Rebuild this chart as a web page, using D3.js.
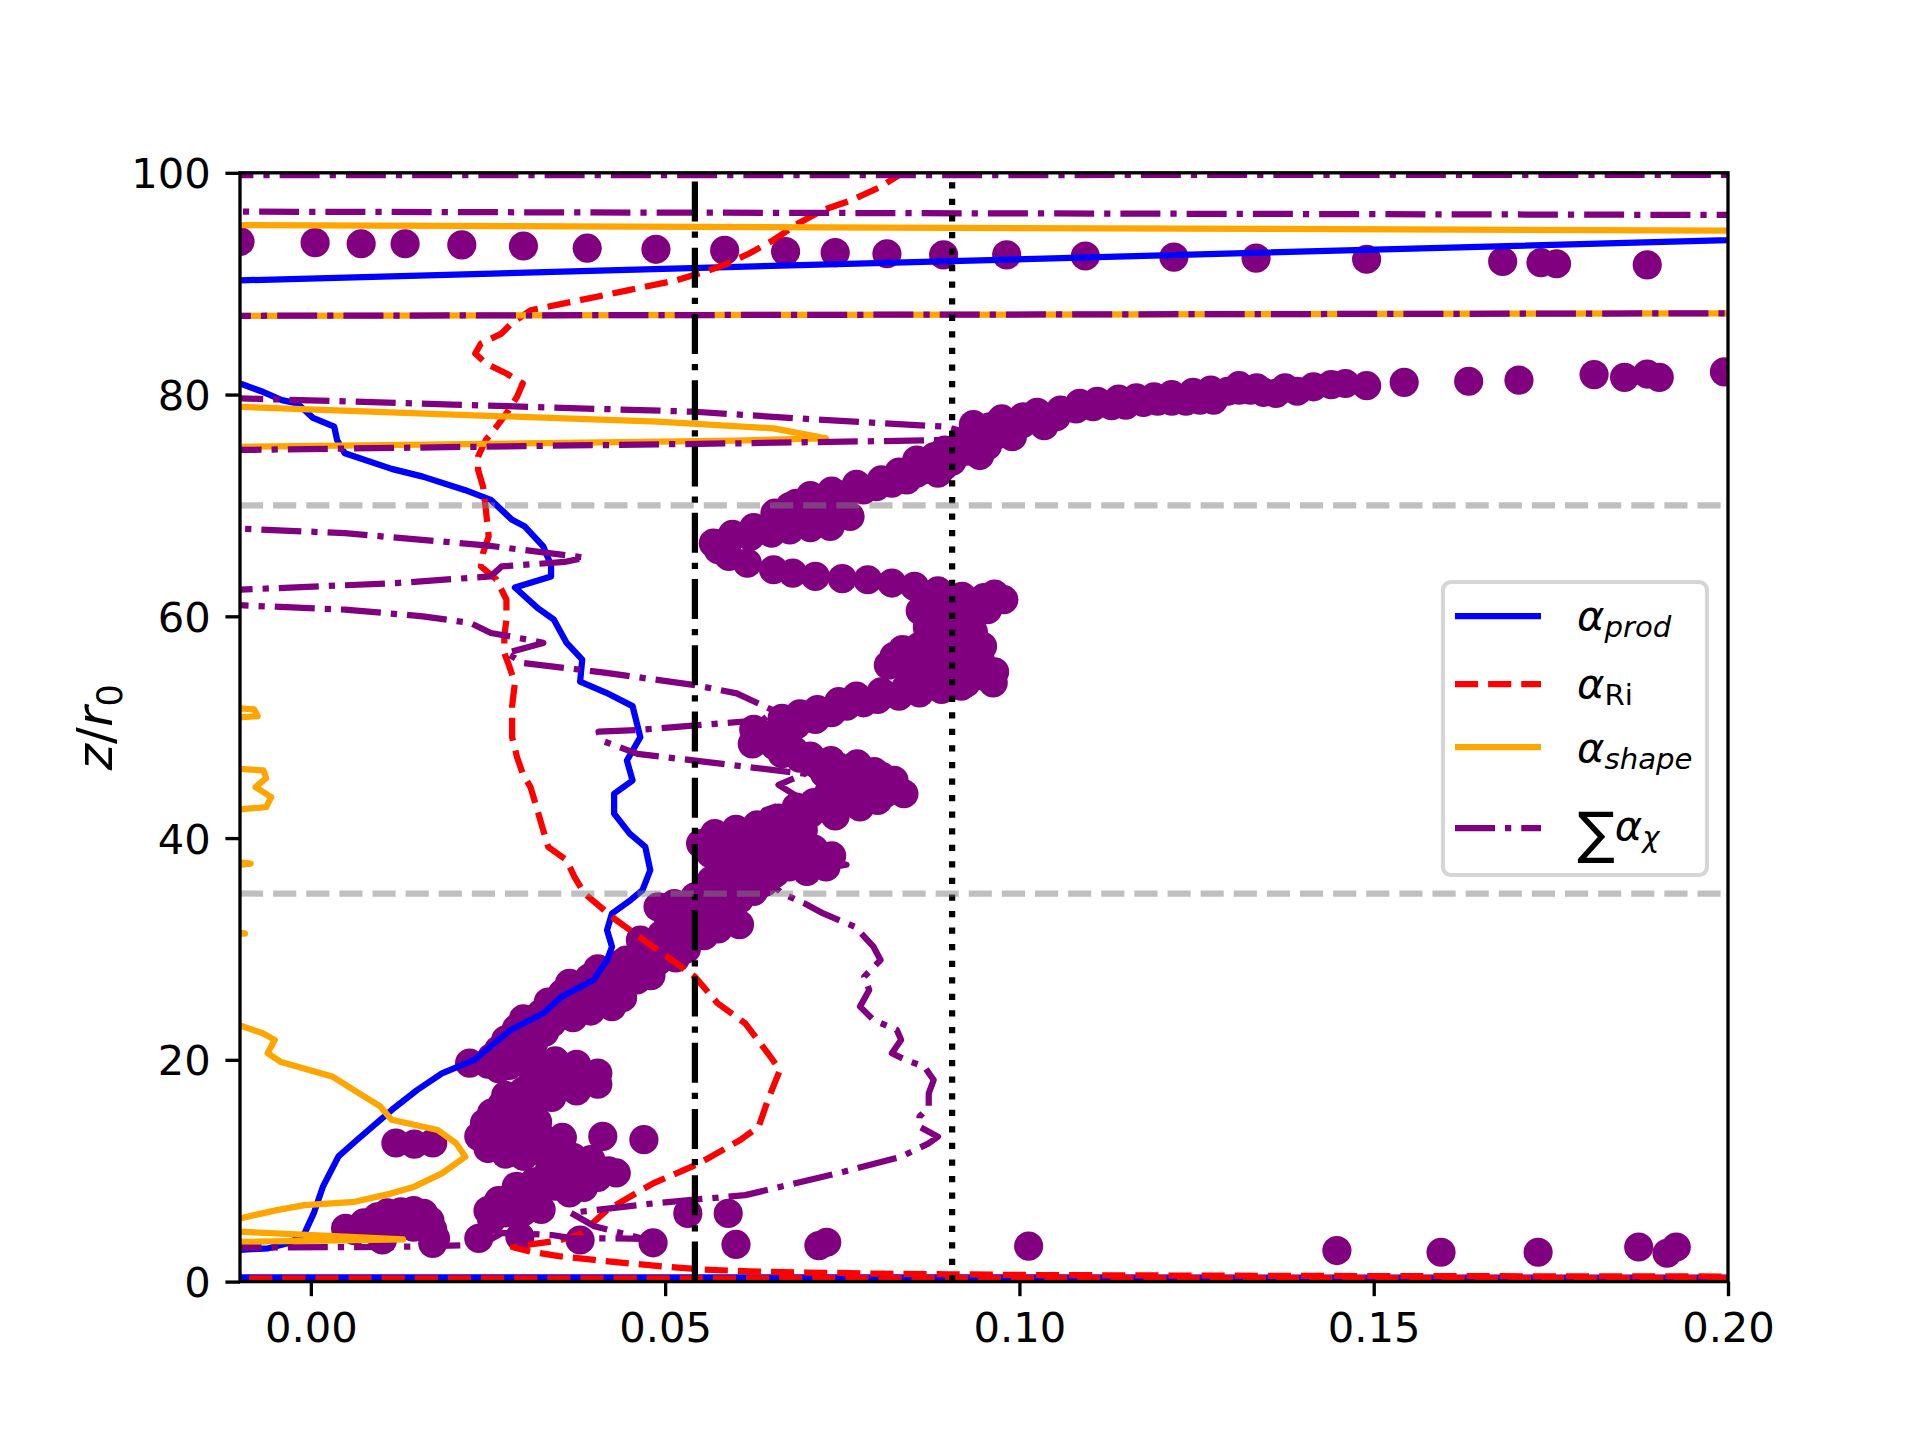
<!DOCTYPE html>
<html>
<head>
<meta charset="utf-8">
<script src="https://cdn.jsdelivr.net/npm/d3@7"></script>
<style>
  body { margin: 0; background: #fff; }
  text { font-family: "DejaVu Sans", sans-serif; }
</style>
</head>
<body>
<div id="chart"></div>
<script>
// every series is a list of [alpha, z/r0] pairs
// (values outside the axes are where the profiles blow up and get clipped)
const alphaProd = [
  [1.5, 0.3], [-1.5, 0.45], [-0.012, 2.8], [-0.006, 3.0], [-0.003, 3.5], [-0.0009, 4.35],
  [0.0004, 6.15], [0.0017, 8.56], [0.0039, 11.3], [0.0065, 12.77], [0.0114, 15.47],
  [0.015, 17.28], [0.0185, 18.78], [0.023, 19.98], [0.0282, 22.69], [0.0328, 24.2],
  [0.0354, 25.7], [0.0399, 27.2], [0.0418, 29.0], [0.0425, 30.2], [0.0418, 31.7],
  [0.0425, 33.2], [0.0451, 34.4], [0.0468, 35.3], [0.0479, 37.1], [0.0472, 39.2],
  [0.045, 40.4], [0.0428, 42.2], [0.0428, 44.0], [0.0454, 45.2], [0.0446, 47.0],
  [0.0465, 49.1], [0.0454, 51.9], [0.0417, 53.1], [0.038, 54.1], [0.0383, 56.1],
  [0.0361, 57.6], [0.0343, 59.7], [0.0321, 60.7], [0.0288, 62.6], [0.0339, 63.6],
  [0.0339, 64.6], [0.0328, 66.3], [0.0302, 68.1], [0.0284, 68.7], [0.0254, 70.5],
  [0.0217, 71.4], [0.0158, 72.6], [0.0114, 73.3], [0.0048, 74.7], [0.0037, 75.9],
  [0.0033, 77.1], [0.0003, 77.9], [-0.0019, 79.2], [-0.0041, 79.5], [-0.007, 80.3],
  [-0.01, 81.0], [-0.03, 81.5], [-0.03, 89.95], [0.25, 94.8], [0.3, 100.5]
];

const alphaRi = [
  [-1.5, 0.25], [1.5, 0.35], [0.21, 0.45], [0.15, 0.5], [0.12, 0.55], [0.1, 0.6],
  [0.09, 0.66], [0.08, 0.72], [0.07, 0.82], [0.062, 0.92], [0.055, 1.1], [0.05, 1.35],
  [0.045, 1.64], [0.04, 1.95], [0.035, 2.3], [0.031, 2.7], [0.0285, 3.1], [0.031, 3.35],
  [0.035, 3.7], [0.038, 4.3], [0.0393, 5.0], [0.0418, 6.45], [0.0483, 8.86],
  [0.0548, 10.66], [0.0606, 12.77], [0.0632, 13.97], [0.0645, 16.38], [0.0662, 19.08],
  [0.0645, 20.59], [0.0613, 23.29], [0.0574, 25.1], [0.0542, 27.5], [0.0516, 28.7],
  [0.047, 30.8], [0.0431, 32.6], [0.0386, 35.0], [0.0372, 36.5], [0.0361, 38.0],
  [0.0335, 39.2], [0.0328, 40.7], [0.0317, 43.1], [0.031, 44.6], [0.0299, 45.8],
  [0.0291, 47.3], [0.0284, 49.1], [0.0284, 51.9], [0.0288, 54.0], [0.028, 55.5],
  [0.0273, 56.7], [0.0273, 58.2], [0.0276, 59.7], [0.0276, 61.5], [0.0262, 63.3],
  [0.024, 64.5], [0.0243, 65.7], [0.0251, 67.2], [0.0247, 69.6], [0.0243, 71.7],
  [0.0236, 73.2], [0.0236, 74.4], [0.0247, 75.9], [0.0262, 77.1], [0.0276, 78.3],
  [0.0291, 79.8], [0.0299, 81.0], [0.0276, 81.9], [0.0247, 82.8], [0.0232, 83.7],
  [0.024, 84.6], [0.0269, 85.5], [0.0283, 86.4], [0.031, 87.6], [0.0379, 88.5],
  [0.0447, 89.4], [0.0516, 90.3], [0.0557, 91.1], [0.0584, 91.7], [0.0618, 92.7],
  [0.0652, 93.9], [0.0687, 95.4], [0.0721, 96.6], [0.0762, 97.5], [0.0803, 98.7],
  [0.083, 99.8], [0.086, 100.6]
];

const alphaShape = [
  [-0.05, 3.2], [0.013, 3.8], [-0.02, 4.8], [-0.013, 5.5], [-0.01, 5.7], [-0.0048, 6.45],
  [-0.0009, 6.9], [0.0062, 7.2], [0.0114, 7.96], [0.0146, 8.56], [0.0185, 9.76],
  [0.0218, 11.26], [0.0205, 12.47], [0.0179, 13.67], [0.0114, 14.6], [0.0098, 15.8],
  [0.0075, 16.7], [0.003, 18.5], [-0.0042, 19.8], [-0.0061, 20.6], [-0.0051, 21.8],
  [-0.0068, 22.4], [-0.01, 23.1], [-0.02, 24.0], [-0.02, 30.8], [-0.0093, 31.4],
  [-0.02, 32.0], [-0.02, 36.9], [-0.0085, 37.7], [-0.02, 38.5], [-0.02, 42.0],
  [-0.0063, 42.8], [-0.0056, 43.7], [-0.0078, 44.6], [-0.0063, 45.4], [-0.0067, 46.1],
  [-0.02, 46.7], [-0.02, 50.4], [-0.0075, 51.0], [-0.008, 51.6], [-0.02, 52.2],
  [-0.02, 75.2], [0.03, 75.6], [0.06, 75.85], [0.0727, 76.05], [0.069, 76.5],
  [0.0653, 76.95], [0.049, 77.55], [0.02, 78.2], [-0.01, 78.9], [-0.3, 80.0],
  [-0.3, 86.8], [0.5, 87.64], [0.5, 94.05], [-0.3, 95.99], [-0.3, 100.5]
];

const alphaSum = [
  [-0.05, 2.9], [0.014, 3.15], [0.024, 3.3], [0.027, 4.4], [0.031, 4.3], [0.034, 4.2],
  [0.037, 3.9], [0.043, 3.9], [0.047, 3.85], [0.040, 5.0], [0.0367, 6.2], [0.0483, 7.05],
  [0.0613, 7.8], [0.0743, 9.76], [0.0833, 11.26], [0.0872, 12.47], [0.0885, 13.07],
  [0.0859, 13.97], [0.0859, 14.87], [0.0872, 15.77], [0.0872, 16.98], [0.0879, 18.18],
  [0.0866, 19.38], [0.084, 19.98], [0.082, 20.6], [0.0833, 21.8], [0.0827, 22.7],
  [0.0794, 23.6], [0.0775, 24.8], [0.0788, 26.3], [0.0781, 27.5], [0.0804, 29.0],
  [0.0794, 30.2], [0.0768, 32.0], [0.0723, 33.2], [0.0697, 34.1], [0.0665, 35.0],
  [0.0645, 36.2], [0.07, 37.0], [0.0756, 37.6], [0.066, 39.0], [0.062, 40.5],
  [0.064, 42.5], [0.069, 43.6], [0.066, 44.8], [0.0697, 45.8], [0.0461, 47.6],
  [0.041, 48.8], [0.0406, 49.6], [0.0461, 49.75], [0.0638, 50.65], [0.0653, 51.5],
  [0.0601, 53.05], [0.0542, 53.8], [0.0417, 54.9], [0.0299, 55.8], [0.0276, 56.7],
  [0.0328, 57.6], [0.0306, 57.9], [0.0254, 58.5], [0.0225, 59.4], [0.0158, 60.0],
  [0.0048, 60.6], [-0.01, 61.0], [-0.03, 61.7], [-0.01, 62.4], [0.0121, 63.0],
  [0.0254, 63.6], [0.0269, 64.5], [0.0358, 64.9], [0.0387, 65.3], [0.0247, 66.4],
  [0.0048, 67.5], [-0.01, 67.9], [-0.03, 68.5], [-0.03, 74.9], [-0.01, 75.0],
  [0.03, 75.35], [0.06, 75.6], [0.09, 75.9], [0.093, 76.5], [0.0896, 77.1],
  [0.07, 77.8], [0.0542, 78.45], [0.02, 79.1], [-0.01, 79.66], [-0.3, 80.5],
  [-0.3, 86.8], [0.5, 87.64], [0.5, 95.77], [-0.3, 96.91], [-0.3, 99.75], [0.5, 99.85]
];

// purple markers (unlabelled series)
const markerPoints = [
  [0.0101, 3.75], [0.0172, 3.45], [0.0237, 3.9], [0.0295, 4.05], [0.038, 3.75],
  [0.0483, 3.5], [0.060, 3.35], [0.0717, 3.25], [0.0728, 3.55], [0.1013, 3.2],
  [0.1448, 2.8], [0.1595, 2.65], [0.1732, 2.65], [0.1874, 3.12], [0.1914, 2.56],
  [0.1927, 3.12], [0.0532, 6.15], [0.0589, 6.15],
  [0.0049, 4.8], [0.0062, 4.6], [0.0075, 5.3], [0.0094, 5.85], [0.0108, 6.2],
  [0.0127, 6.3], [0.0145, 6.4], [0.0159, 6.15], [0.0168, 5.5], [0.0172, 4.7],
  [0.0176, 3.9], [0.0145, 4.9], [0.012, 5.2],
  [0.0255, 5.6], [0.025, 6.4], [0.0275, 6.2], [0.030, 6.3], [0.0325, 6.5], [0.0265, 7.3],
  [0.0285, 7.8], [0.031, 7.5], [0.029, 8.6], [0.0315, 9.0], [0.0345, 8.6], [0.0365, 8.0],
  [0.0385, 8.5], [0.0335, 9.8], [0.0355, 10.2], [0.038, 9.6], [0.0405, 9.4], [0.042, 10.0],
  [0.037, 11.2], [0.0395, 11.0], [0.0431, 9.8],
  [0.0120, 12.5], [0.0146, 12.4], [0.0172, 12.5],
  [0.025, 12.0], [0.0275, 11.5], [0.030, 11.3], [0.033, 11.5], [0.0355, 11.8],
  [0.0237, 13.1], [0.0265, 12.8], [0.0295, 12.9], [0.0325, 13.1], [0.0355, 13.0],
  [0.0412, 13.1], [0.047, 12.8],
  [0.0245, 14.3], [0.0255, 15.2], [0.027, 16.0], [0.0275, 16.8], [0.030, 17.2],
  [0.033, 17.5], [0.036, 17.9], [0.0393, 18.2], [0.037, 18.7], [0.034, 19.0],
  [0.031, 19.3], [0.028, 19.5], [0.025, 19.6], [0.0224, 19.7], [0.0255, 20.2], [0.028, 20.6],
  [0.026, 13.8], [0.029, 14.0], [0.032, 14.4], [0.0285, 15.5], [0.031, 16.2], [0.034, 16.6],
  [0.0375, 17.2], [0.0405, 17.8], [0.0405, 18.8], [0.0375, 19.6], [0.0345, 19.9],
  [0.031, 20.1], [0.0265, 19.2],
  [0.029, 21.5], [0.0305, 22.3], [0.0315, 23.0], [0.034, 23.3], [0.0325, 24.2],
  [0.0355, 24.6], [0.038, 24.9], [0.0405, 25.3], [0.0355, 26.0], [0.0418, 25.8],
  [0.0265, 20.9], [0.0275, 21.8], [0.0315, 21.6], [0.033, 22.5], [0.029, 22.8],
  [0.030, 23.7], [0.0345, 24.1], [0.037, 23.8], [0.0395, 24.4], [0.0425, 24.8],
  [0.044, 25.6], [0.0375, 25.6], [0.0335, 25.2], [0.0395, 26.4], [0.043, 26.7],
  [0.0393, 27.4], [0.042, 27.7], [0.045, 28.0], [0.047, 28.4], [0.0445, 29.0],
  [0.0475, 29.4], [0.050, 29.8], [0.0483, 30.4], [0.051, 30.4],
  [0.0365, 26.9], [0.0405, 28.2], [0.0435, 28.6], [0.046, 27.2], [0.048, 27.6],
  [0.0465, 29.6], [0.049, 28.9], [0.0515, 29.2], [0.053, 30.0], [0.0465, 30.8],
  [0.0495, 31.3], [0.0525, 30.9], [0.0555, 31.2],
  [0.0522, 31.7], [0.0535, 32.5], [0.0548, 33.2], [0.0575, 33.0], [0.0595, 32.6],
  [0.0505, 32.3], [0.0525, 33.0], [0.0555, 32.3], [0.0575, 31.8], [0.0605, 32.2],
  [0.058, 34.0], [0.0565, 33.6], [0.052, 33.6], [0.0605, 34.5], [0.0625, 35.2], [0.064, 36.0],
  [0.049, 33.8], [0.0513, 34.1], [0.0542, 34.7], [0.0579, 35.3], [0.0616, 35.9],
  [0.0638, 36.8], [0.0609, 37.4], [0.0675, 37.4], [0.0712, 38.3], [0.0727, 37.4],
  [0.0690, 38.0], [0.0655, 38.5], [0.0564, 38.6], [0.055, 39.5], [0.0586, 39.8],
  [0.0612, 39.6], [0.0638, 40.1], [0.0660, 40.6], [0.0675, 41.0], [0.0705, 42.2],
  [0.0565, 36.2], [0.0595, 36.6], [0.0625, 37.0], [0.0655, 36.8], [0.070, 37.0],
  [0.0735, 38.4], [0.071, 39.0], [0.068, 39.3], [0.0585, 38.3], [0.0615, 38.6],
  [0.064, 39.0], [0.0665, 40.0], [0.0695, 40.7], [0.057, 40.4], [0.060, 40.8],
  [0.063, 41.2], [0.066, 41.8],
  [0.0741, 43.1], [0.0770, 43.5], [0.0800, 43.4], [0.0837, 44.0], [0.0823, 45.2],
  [0.0795, 44.6], [0.0749, 45.2], [0.0760, 46.0], [0.0771, 46.7], [0.0734, 47.0],
  [0.0705, 47.4], [0.0682, 47.9], [0.0655, 48.3], [0.0638, 48.9], [0.0623, 48.5],
  [0.0685, 42.8], [0.071, 43.2], [0.073, 44.0], [0.076, 44.4], [0.079, 45.3],
  [0.081, 44.0], [0.0775, 42.8], [0.074, 42.0], [0.0725, 45.8], [0.0745, 46.4],
  [0.0795, 46.0], [0.0805, 45.6], [0.0715, 46.6], [0.069, 47.2], [0.0665, 47.6],
  [0.0645, 49.3], [0.066, 49.7], [0.0685, 50.2], [0.0712, 50.7], [0.0735, 51.3],
  [0.0756, 51.9], [0.0780, 52.2], [0.0800, 52.5], [0.0830, 52.8], [0.0859, 53.1],
  [0.0890, 53.4], [0.0918, 53.7], [0.0963, 54.0], [0.0950, 54.6], [0.0933, 55.5],
  [0.067, 48.6], [0.0625, 49.8], [0.0665, 50.8], [0.069, 51.2], [0.0715, 51.6],
  [0.0745, 52.3], [0.077, 52.8], [0.0805, 53.2], [0.084, 53.6], [0.087, 54.0],
  [0.090, 54.4], [0.0925, 54.0],
  [0.0905, 55.6], [0.0882, 56.1], [0.0850, 56.2], [0.0823, 56.4], [0.0859, 57.3],
  [0.0900, 57.4], [0.0948, 57.3], [0.0925, 58.0], [0.0904, 58.8], [0.0900, 59.5],
  [0.0882, 60.0], [0.0920, 60.2], [0.0955, 60.6], [0.0978, 61.5], [0.0950, 61.7],
  [0.0905, 54.6], [0.0965, 55.0], [0.0875, 55.0], [0.0845, 55.6], [0.0815, 55.6],
  [0.0875, 56.8], [0.092, 56.6], [0.0945, 56.0], [0.0835, 57.0], [0.089, 58.2],
  [0.0935, 58.6], [0.087, 59.0], [0.0905, 60.6], [0.086, 60.5], [0.0935, 61.2],
  [0.0965, 62.0],
  [0.0919, 61.8], [0.0885, 62.3], [0.0852, 62.7], [0.0820, 63.0], [0.0786, 63.3],
  [0.0750, 63.4], [0.0712, 63.6], [0.0680, 63.9], [0.0653, 64.2], [0.0616, 64.8],
  [0.0590, 65.4], [0.0575, 66.0],
  [0.0568, 66.6], [0.059, 66.9], [0.062, 67.2], [0.065, 67.5], [0.0676, 67.8],
  [0.0705, 68.0], [0.0733, 68.1], [0.0761, 69.0], [0.0735, 69.3], [0.0705, 69.6],
  [0.0676, 69.9], [0.070, 70.3], [0.0723, 70.5], [0.0756, 71.0], [0.0780, 71.4],
  [0.0595, 67.4], [0.0625, 68.0], [0.065, 68.3], [0.068, 68.6], [0.0715, 68.8],
  [0.0655, 69.3], [0.0685, 70.2], [0.0705, 70.9], [0.0735, 71.3], [0.077, 71.9],
  [0.0805, 72.3], [0.083, 73.0],
  [0.0798, 71.7], [0.0820, 72.0], [0.0841, 72.3], [0.0864, 73.2], [0.0893, 73.5],
  [0.0855, 74.1], [0.0880, 74.4], [0.0911, 75.0], [0.0944, 74.5], [0.0925, 75.8],
  [0.0940, 76.3], [0.0970, 76.4], [0.0990, 76.2], [0.0958, 77.1], [0.0985, 77.3],
  [0.0855, 72.9], [0.0885, 72.9], [0.087, 73.8], [0.0905, 74.0], [0.0895, 75.0],
  [0.0925, 74.9], [0.0955, 75.4], [0.0935, 77.3], [0.096, 76.6], [0.0975, 77.8],
  [0.1005, 78.0], [0.1025, 78.4], [0.1035, 77.2],
  [0.1005, 77.4], [0.1030, 77.7], [0.1052, 78.0], [0.1058, 78.6], [0.1080, 78.7],
  [0.1104, 78.9], [0.1130, 79.0], [0.1150, 79.05], [0.1175, 79.3], [0.1195, 79.4],
  [0.1215, 79.4], [0.1235, 79.4], [0.1255, 79.5], [0.1274, 79.5], [0.1294, 80.3],
  [0.1085, 79.2], [0.1110, 79.4], [0.1140, 79.6], [0.1165, 79.7], [0.119, 79.8],
  [0.1215, 80.0], [0.1245, 80.2], [0.127, 80.4], [0.131, 80.8], [0.1335, 80.6],
  [0.1375, 80.6],
  [0.1310, 80.4], [0.1326, 80.4], [0.1345, 80.2], [0.1362, 80.1], [0.1392, 80.3],
  [0.1415, 80.7], [0.1440, 80.9], [0.1460, 81.0], [0.1490, 80.8], [0.1543, 81.1],
  [0.1634, 81.2], [0.1705, 81.3], [0.1811, 81.8], [0.1854, 81.55], [0.1886, 81.85],
  [0.1903, 81.55], [0.1995, 82.05],
  [-0.01, 93.8], [0.0006, 93.7], [0.0071, 93.6], [0.0133, 93.6], [0.0213, 93.5],
  [0.030, 93.4], [0.039, 93.2], [0.0487, 93.1], [0.0584, 93.0], [0.067, 92.9],
  [0.074, 92.8], [0.0813, 92.7], [0.0893, 92.6], [0.0982, 92.6], [0.1093, 92.5],
  [0.1218, 92.4], [0.1334, 92.3], [0.149, 92.2], [0.1682, 92.0], [0.1736, 91.9],
  [0.1758, 91.8], [0.1886, 91.7]
];

const refAlphas = [0.0542, 0.0905];   // vertical reference lines
const refHeights = [35, 70];          // horizontal reference lines
const xTicks = [0.00, 0.05, 0.10, 0.15, 0.20];
const yTicks = [0, 20, 40, 60, 80, 100];

const W = 1920, H = 1440;
const plotLeft = 240, plotRight = 1728, plotTop = 172.8, plotBottom = 1281.6;
const pt = 300 / 72;          // figure is 300 dpi
const lw = 1.5 * pt;
const fontSize = 10 * pt;

const x = d3.scaleLinear().domain([-0.01, 0.2]).range([plotLeft, plotRight]);
const y = d3.scaleLinear().domain([0, 100]).range([plotBottom, plotTop]);

const svg = d3.select('#chart').append('svg')
  .attr('width', W).attr('height', H)
  .attr('viewBox', `0 0 ${W} ${H}`);

svg.append('rect').attr('width', W).attr('height', H).attr('fill', '#fff');

svg.append('clipPath').attr('id', 'plot-clip')
  .append('rect')
  .attr('x', plotLeft).attr('y', plotTop)
  .attr('width', plotRight - plotLeft).attr('height', plotBottom - plotTop);

const plot = svg.append('g').attr('clip-path', 'url(#plot-clip)');

// markers first, profiles go on top of them
plot.append('g')
  .selectAll('circle')
  .data(markerPoints)
  .enter()
  .append('circle')
  .attr('cx', d => x(d[0]))
  .attr('cy', d => y(d[1]))
  .attr('r', 3.5 * pt)
  .attr('fill', '#800080');

const line = d3.line().x(d => x(d[0])).y(d => y(d[1]));

const dashed = [3.7 * lw, 1.6 * lw].join(',');
const dashdot = [6.4 * lw, 1.6 * lw, 1 * lw, 1.6 * lw].join(',');
const dotted = [1 * lw, 1.65 * lw].join(',');

const series = [
  {data: alphaProd, color: '#0000ff', dash: null},
  {data: alphaRi, color: '#ff0000', dash: dashed},
  {data: alphaShape, color: '#ffa500', dash: null},
  {data: alphaSum, color: '#800080', dash: dashdot}
];

series.forEach(function(s) {
  plot.append('path')
    .datum(s.data)
    .attr('d', line)
    .attr('fill', 'none')
    .attr('stroke', s.color)
    .attr('stroke-width', lw)
    .attr('stroke-linejoin', 'round')
    .attr('stroke-dasharray', s.dash);
});

// vertical reference lines
plot.selectAll('line.vref')
  .data(refAlphas)
  .enter()
  .append('line')
  .attr('class', 'vref')
  .attr('x1', d => x(d)).attr('x2', d => x(d))
  .attr('y1', plotBottom).attr('y2', plotTop)
  .attr('stroke', '#000')
  .attr('stroke-width', lw)
  .attr('stroke-dasharray', (d, i) => i === 0 ? dashdot : dotted);

// horizontal reference lines
plot.selectAll('line.href')
  .data(refHeights)
  .enter()
  .append('line')
  .attr('class', 'href')
  .attr('x1', plotLeft).attr('x2', plotRight)
  .attr('y1', d => y(d)).attr('y2', d => y(d))
  .attr('stroke', '#808080')
  .attr('stroke-opacity', 0.5)
  .attr('stroke-width', lw)
  .attr('stroke-dasharray', dashed);

// axes
const tickLen = 3.5 * pt;
const xAxis = d3.axisBottom(x)
  .tickValues(xTicks)
  .tickFormat(d3.format('.2f'))
  .tickSizeInner(tickLen)
  .tickSizeOuter(0)
  .tickPadding(tickLen);
const yAxis = d3.axisLeft(y)
  .tickValues(yTicks)
  .tickFormat(d3.format('d'))
  .tickSizeInner(tickLen)
  .tickSizeOuter(0)
  .tickPadding(tickLen);

const gx = svg.append('g').attr('transform', `translate(0,${plotBottom})`).call(xAxis);
const gy = svg.append('g').attr('transform', `translate(${plotLeft},0)`).call(yAxis);

[gx, gy].forEach(function(g) {
  g.select('.domain').remove();
  g.selectAll('.tick line').attr('stroke', '#000').attr('stroke-width', 0.8 * pt);
  g.selectAll('.tick text')
    .attr('fill', '#000')
    .style('font-family', '"DejaVu Sans", sans-serif')
    .style('font-size', fontSize + 'px');
});
gx.selectAll('.tick text').attr('dy', '0.76em');
gy.selectAll('.tick text').attr('dy', '0.36em');

// spines
svg.append('rect')
  .attr('x', plotLeft).attr('y', plotTop)
  .attr('width', plotRight - plotLeft).attr('height', plotBottom - plotTop)
  .attr('fill', 'none')
  .attr('stroke', '#000')
  .attr('stroke-width', 0.8 * pt)
  .attr('stroke-linejoin', 'miter');

// y label  z/r_0
const labelSize = 12 * pt;
const ylab = svg.append('text')
  .attr('transform', `translate(112,${(plotTop + plotBottom) / 2}) rotate(-90)`)
  .attr('text-anchor', 'middle')
  .style('font-size', labelSize + 'px');
ylab.append('tspan').style('font-style', 'italic').text('z');
ylab.append('tspan').text('/');
ylab.append('tspan').style('font-style', 'italic').text('r');
ylab.append('tspan').attr('dy', 0.2 * labelSize).style('font-size', 0.7 * labelSize + 'px').text('0');

// legend
const legendBaselines = [630, 698, 762, 840];
const legendSubs = ['prod', 'Ri', 'shape', 'χ'];
const legendSubItalic = [true, false, true, true];

const legend = svg.append('g');
legend.append('rect')
  .attr('x', 1443).attr('y', 582)
  .attr('width', 264).attr('height', 293)
  .attr('rx', 8).attr('ry', 8)
  .attr('fill', '#fff').attr('fill-opacity', 0.8)
  .attr('stroke', '#cccccc').attr('stroke-opacity', 0.8)
  .attr('stroke-width', 1 * pt);

const rowLineY = [616, 684, 747, 828];
series.forEach(function(s, i) {
  legend.append('line')
    .attr('x1', 1455).attr('x2', 1541)
    .attr('y1', rowLineY[i]).attr('y2', rowLineY[i])
    .attr('stroke', s.color)
    .attr('stroke-width', lw)
    .attr('stroke-dasharray', s.dash);

  const t = legend.append('text')
    .attr('x', 1577)
    .attr('y', legendBaselines[i])
    .style('font-size', fontSize + 'px');
  if (i === 3) {
    t.append('tspan').attr('dy', 12).style('font-size', '56px').text('∑');
    t.append('tspan').attr('dy', -12).style('font-style', 'italic').text('α');
  } else {
    t.append('tspan').style('font-style', 'italic').text('α');
  }
  t.append('tspan')
    .attr('dy', 0.17 * fontSize)
    .style('font-size', 0.7 * fontSize + 'px')
    .style('font-style', legendSubItalic[i] ? 'italic' : 'normal')
    .text(legendSubs[i]);
});
</script>
</body>
</html>
